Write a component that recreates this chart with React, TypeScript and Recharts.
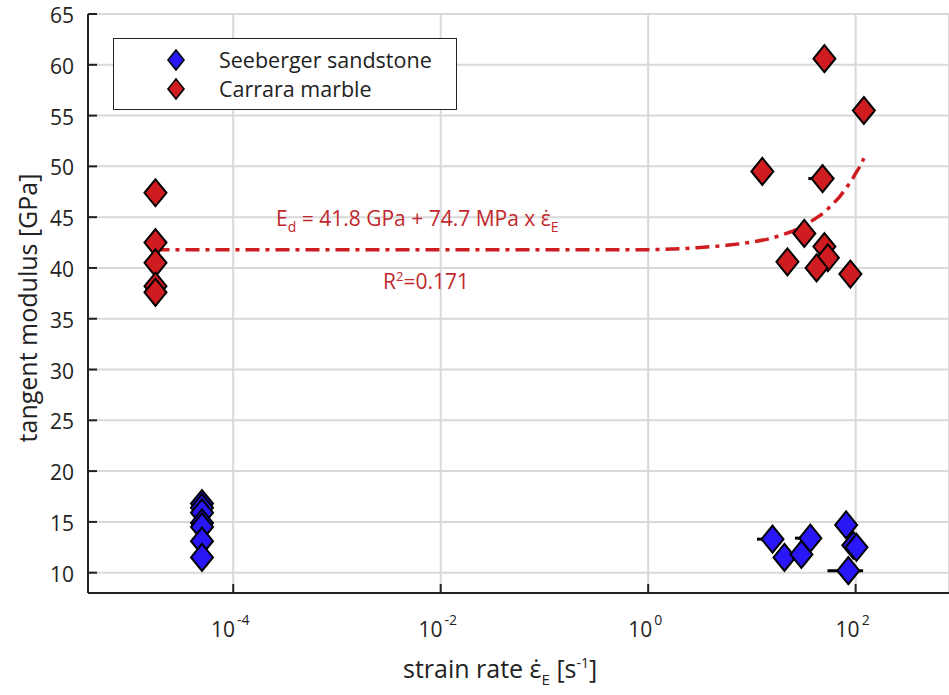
import { ComposedChart, Scatter, Line, XAxis, YAxis, CartesianGrid, ErrorBar, Customized } from 'recharts';

// Seeberger sandstone
const sandstoneRate = [5e-5, 5e-5, 5e-5, 5e-5, 5e-5, 5e-5, 5e-5, 15.8, 20.6, 30, 36.6, 81, 95, 102, 85];
const sandstoneModulus = [16.8, 16.4, 15.9, 14.9, 14.5, 13.1, 11.5, 13.3, 11.5, 11.8, 13.4, 14.7, 12.7, 12.5, 10.2];

// Carrara marble
const marbleRate = [1.78e-5, 1.78e-5, 1.78e-5, 1.78e-5, 1.78e-5, 50, 120, 12.6, 48, 32, 50, 54, 22, 42, 89];
const marbleModulus = [47.4, 42.5, 40.5, 38.2, 37.6, 60.6, 55.5, 49.5, 48.8, 43.4, 42.1, 41.0, 40.6, 40.0, 39.4];

// horizontal error bars (strain rate spread)
const errRate = [48, 15.8, 36.6, 85];
const errModulus = [48.8, 13.3, 13.4, 10.2];
const errLow = [13, 4.6, 10.6, 31.5];
const errHigh = [14, 4.2, 3, 33];

// fit curve
const fitRate = [1.78e-5, 1, 3, 6, 10, 15, 20, 30, 40, 50, 60, 70, 80, 90, 100, 110, 120];
const fitModulus = [41.8, 41.8, 42.0, 42.25, 42.55, 42.9, 43.3, 44.0, 44.8, 45.5, 46.3, 47.0, 47.8, 48.5, 49.3, 50.0, 50.8];

const xTicks = [1e-4, 1e-2, 1, 100];
const xTickExp = ['-4', '-2', '0', '2'];
const yTicks = [10, 15, 20, 25, 30, 35, 40, 45, 50, 55, 60, 65];

const BLUE = '#2a17f7';
const RED = '#cf1c20';
const TEXT_RED = '#c1272d';
const FONT = '"Open Sans", sans-serif';

const sandstone = sandstoneRate.map((r, i) => ({ rate: r, mod: sandstoneModulus[i] }));
const marble = marbleRate.map((r, i) => ({ rate: r, mod: marbleModulus[i] }));
const errPts = errRate.map((r, i) => ({ rate: r, mod: errModulus[i], err: [errLow[i], errHigh[i]] }));
const fit = fitRate.map((r, i) => ({ rate: r, mod: fitModulus[i] }));

const Diamond = (color: string) => (props: any) => {
  const { cx, cy } = props;
  const hw = 11, hh = 13.5;
  return (
    <polygon
      points={`${cx},${cy - hh} ${cx + hw},${cy} ${cx},${cy + hh} ${cx - hw},${cy}`}
      fill={color}
      stroke="#000"
      strokeWidth={2}
    />
  );
};

const XTick = (props: any) => {
  const { x, payload } = props;
  const idx = xTicks.indexOf(payload.value);
  const exp = xTickExp[idx] ?? '';
  return (
    <text x={x - 3} y={637} textAnchor="middle" fontFamily={FONT} fontSize={21} fill="#222">
      <tspan>10</tspan>
      <tspan dy={-12} fontSize={14} dx={2}>{exp}</tspan>
    </text>
  );
};

const YTick = (props: any) => {
  const { y, payload } = props;
  return (
    <text x={74} y={y + 9} textAnchor="end" fontFamily={FONT} fontSize={21} fill="#222">
      {payload.value}
    </text>
  );
};

const Annotations = () => (
  <g fontFamily={FONT}>
    <text x={276} y={226} fontSize={21} fill={TEXT_RED}>
      <tspan>E</tspan>
      <tspan dy={6} fontSize={14}>d</tspan>
      <tspan dy={-6}> = 41.8 GPa + 74.7 MPa x ε̇</tspan>
      <tspan dy={6} fontSize={14}>E</tspan>
    </text>
    <text x={383} y={289} fontSize={21} fill={TEXT_RED}>
      <tspan>R</tspan>
      <tspan dy={-8} fontSize={13}>2</tspan>
      <tspan dy={8}>=0.171</tspan>
    </text>
    <text x={403} y={678} fontSize={25} fill="#222">
      <tspan>strain rate ε̇</tspan>
      <tspan dy={7} fontSize={15}>E</tspan>
      <tspan dy={-7}> [s</tspan>
      <tspan dy={-10} fontSize={14}>-1</tspan>
      <tspan dy={10}>]</tspan>
    </text>
    <text
      x={0}
      y={0}
      transform="translate(37,308) rotate(-90)"
      textAnchor="middle"
      fontSize={25}
      fill="#222"
    >
      tangent modulus [GPa]
    </text>
  </g>
);

function LegendBox() {
  const items = [
    { label: 'Seeberger sandstone', color: BLUE },
    { label: 'Carrara marble', color: RED },
  ];
  return (
    <div
      style={{
        position: 'absolute',
        left: 113,
        top: 38,
        width: 342,
        height: 70,
        border: '1.5px solid #222',
        background: '#fff',
        fontFamily: FONT,
        fontSize: 21.5,
        color: '#222',
      }}
    >
      {items.map((it, i) => (
        <div key={it.label} style={{ position: 'absolute', left: 0, top: 8 + i * 29, height: 26, display: 'flex', alignItems: 'center' }}>
          <svg width={20} height={24} style={{ marginLeft: 52 }}>
            <polygon points="10,2 18,12 10,22 2,12" fill={it.color} stroke="#000" strokeWidth={1.6} />
          </svg>
          <span style={{ marginLeft: 33, lineHeight: '26px' }}>{it.label}</span>
        </div>
      ))}
    </div>
  );
}

export default function App() {
  return (
    <div style={{ position: 'absolute', left: 0, top: 0, width: 949, height: 695, background: '#fff' }}>
      <ComposedChart width={949} height={695} margin={{ top: 14, right: 0, bottom: 42, left: 18 }}>
        <CartesianGrid stroke="#d9d9d9" strokeWidth={2} />
        <XAxis
          dataKey="rate"
          type="number"
          scale="log"
          domain={[Math.pow(10, -5.4), Math.pow(10, 2.9)]}
          allowDataOverflow
          ticks={xTicks}
          interval={0}
          height={60}
          tick={<XTick />}
          tickSize={-9}
          tickLine={{ stroke: '#222', strokeWidth: 2 }}
          axisLine={{ stroke: '#222', strokeWidth: 2 }}
        />
        <YAxis
          dataKey="mod"
          type="number"
          domain={[8, 65]}
          allowDataOverflow
          ticks={yTicks}
          interval={0}
          width={70}
          tick={<YTick />}
          tickSize={-9}
          tickLine={{ stroke: '#222', strokeWidth: 2 }}
          axisLine={{ stroke: '#222', strokeWidth: 2 }}
        />
        <Line
          data={fit}
          dataKey="mod"
          type="monotone"
          stroke={RED}
          strokeWidth={3.5}
          strokeDasharray="14 6 4 6"
          dot={false}
          isAnimationActive={false}
          legendType="none"
        />
        <Scatter data={errPts} dataKey="mod" shape={() => <g />} isAnimationActive={false} legendType="none">
          <ErrorBar dataKey="err" direction="x" width={0} stroke="#000" strokeWidth={3} />
        </Scatter>
        <Scatter name="Carrara marble" data={marble} dataKey="mod" shape={Diamond(RED)} isAnimationActive={false} />
        <Scatter name="Seeberger sandstone" data={sandstone} dataKey="mod" shape={Diamond(BLUE)} isAnimationActive={false} />
        <Customized component={Annotations} />
      </ComposedChart>
      <LegendBox />
    </div>
  );
}
